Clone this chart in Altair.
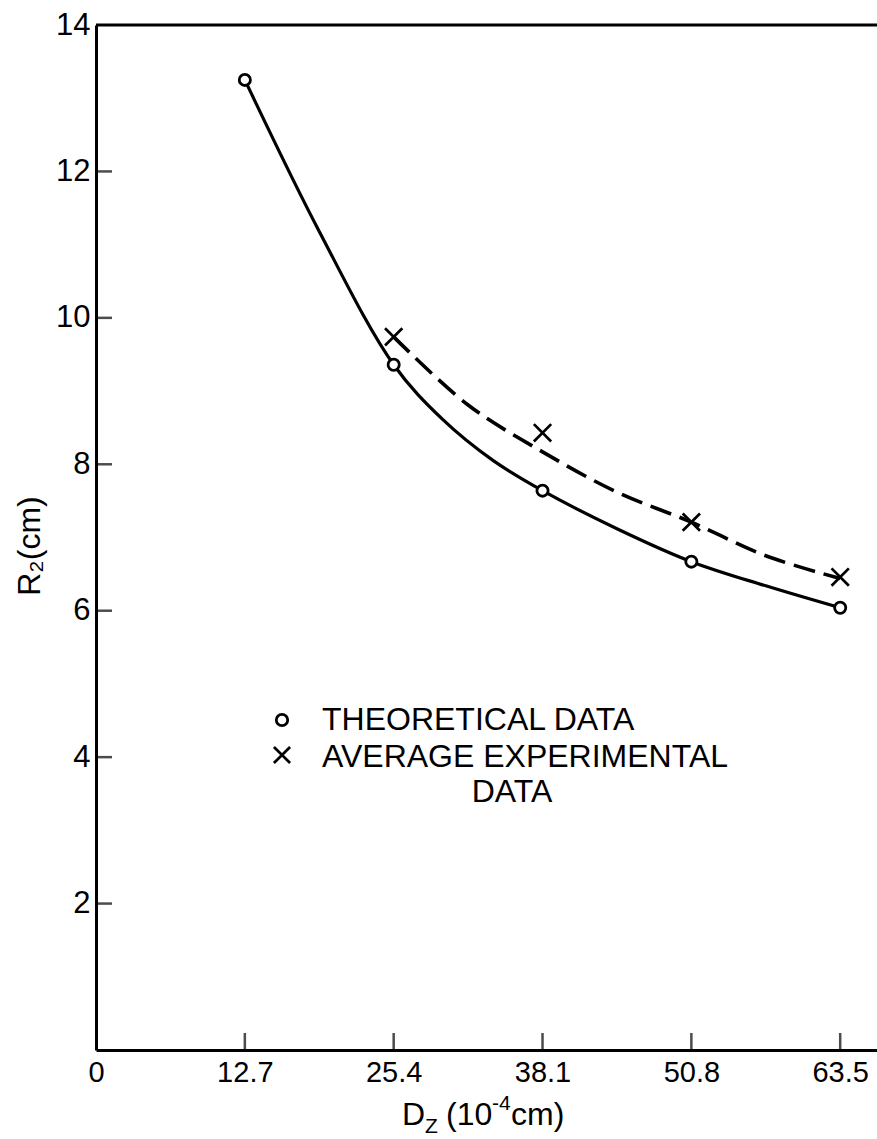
import altair as alt
import pandas as pd

# ---- values ----
theory_x = [12.7, 25.4, 38.1, 50.8, 63.5]
theory_y = [13.25, 9.36, 7.64, 6.67, 6.04]
exp_x = [25.4, 38.1, 50.8, 63.5]
exp_y = [9.74, 8.43, 7.21, 6.46]

# traced positions of the drawn curves
solid_curve_x = [12.7, 19.05, 25.4, 29.6, 33.9, 38.1, 44.45, 50.8, 57.15, 63.5]
solid_curve_y = [13.25, 11.18, 9.36, 8.61, 8.05, 7.64, 7.12, 6.67, 6.34, 6.04]
dashed_curve_x = [25.4, 31.75, 38.1, 44.45, 50.8, 57.15, 63.5]
dashed_curve_y = [9.74, 8.81, 8.17, 7.62, 7.21, 6.75, 6.44]

x_label_values = [0, 12.7, 25.4, 38.1, 50.8, 63.5]
x_tick_values = [12.7, 25.4, 38.1, 50.8, 63.5]
y_label_values = [2, 4, 6, 8, 10, 12, 14]
y_tick_values = [2, 4, 6, 8, 10, 12]

legend_labels = ["THEORETICAL DATA", "AVERAGE EXPERIMENTAL", "DATA"]
x_title_parts = ["D", "Z", "(10", "-4", "cm)"]
y_title = "R\u2082(cm)"

# ---- layout ----
W, H = 781, 1025
FONT = "Liberation Sans"

xscale = alt.Scale(domain=[0, 66.64], nice=False, zero=False)
yscale = alt.Scale(domain=[0, 14], nice=False, zero=False)

xaxis = alt.Axis(values=x_label_values,
                 labelExpr="datum.value == 0 ? '0' : format(datum.value, '.1f')",
                 ticks=False, grid=False, domain=True,
                 domainColor="black", domainWidth=3,
                 labelFont=FONT, labelFontSize=29, labelColor="black",
                 labelPadding=8, labelFlush=False, labelOverlap=False, title=None)
yaxis = alt.Axis(values=y_label_values, format="d",
                 ticks=False, grid=False, domain=True,
                 domainColor="black", domainWidth=3,
                 labelFont=FONT, labelFontSize=31, labelColor="black",
                 labelPadding=6, labelFlush=False, labelOverlap=False, title=None)


def X(field):
    return alt.X(field, type="quantitative", scale=xscale, axis=xaxis)


def Y(field):
    return alt.Y(field, type="quantitative", scale=yscale, axis=yaxis)


theory_df = pd.DataFrame({"x": theory_x, "y": theory_y})
exp_df = pd.DataFrame({"x": exp_x, "y": exp_y})
solid_df = pd.DataFrame({"x": solid_curve_x, "y": solid_curve_y})
dashed_df = pd.DataFrame({"x": dashed_curve_x, "y": dashed_curve_y})
xt_df = pd.DataFrame({"x": x_tick_values})
yt_df = pd.DataFrame({"y": y_tick_values})
one = pd.DataFrame({"k": [0]})

solid = alt.Chart(solid_df).mark_line(
    interpolate="catmull-rom", color="black", strokeWidth=3.2
).encode(x=X("x"), y=Y("y"))

dashed = alt.Chart(dashed_df).mark_line(
    interpolate="catmull-rom", color="black", strokeWidth=3.6, strokeDash=[22, 9]
).encode(x=X("x"), y=Y("y"))

circles = alt.Chart(theory_df).mark_point(
    shape="circle", filled=True, fill="white", stroke="black",
    strokeWidth=2.8, size=125, opacity=1
).encode(x=X("x"), y=Y("y"))

XPATH = "M-1,-1L1,1M-1,1L1,-1"
crosses = alt.Chart(exp_df).mark_point(
    shape=XPATH, filled=False, stroke="black", strokeWidth=2.7, size=300, opacity=1
).encode(x=X("x"), y=Y("y"))

# inward ticks
xticks = alt.Chart(xt_df).mark_tick(
    color="black", thickness=2.5, size=17, orient="vertical"
).encode(x=X("x"), y=alt.value(H - 8.5))
yticks = alt.Chart(yt_df).mark_tick(
    color="black", thickness=2.5, size=16, orient="horizontal"
).encode(y=Y("y"), x=alt.value(8))

top_border = alt.Chart(one).mark_rule(color="black", strokeWidth=3).encode(
    x=alt.value(0), x2=alt.value(W), y=alt.value(0))

# ---- legend drawn as annotation ----
leg_circle = alt.Chart(one).mark_point(
    shape="circle", filled=True, fill="white", stroke="black",
    strokeWidth=2.8, size=130, opacity=1
).encode(x=alt.value(186), y=alt.value(695))
leg_cross = alt.Chart(one).mark_point(
    shape=XPATH, filled=False, stroke="black", strokeWidth=2.7, size=260, opacity=1
).encode(x=alt.value(186), y=alt.value(730))


def txt(s, x, y, size, align="left", baseline="alphabetic", angle=0):
    kw = dict(align=align, baseline=baseline, font=FONT, fontSize=size, color="black")
    if angle:
        kw["angle"] = angle
    return alt.Chart(one).mark_text(**kw).encode(
        x=alt.value(x), y=alt.value(y), text=alt.value(s))


leg1 = txt(legend_labels[0], 226, 705, 32)
leg2 = txt(legend_labels[1], 226, 742, 32)
leg3 = txt(legend_labels[2], 416, 777, 32, align="center")

# ---- axis titles ----
xt1 = txt(x_title_parts[0], 306, 1100, 32)
xt2 = txt(x_title_parts[1], 329, 1108, 21)
xt3 = txt(x_title_parts[2], 350, 1100, 32)
xt4 = txt(x_title_parts[3], 396, 1085, 21)
xt5 = txt(x_title_parts[4], 415, 1100, 32)
yt = txt(y_title, -66, 521, 32, align="center", baseline="middle", angle=270)

chart = alt.layer(
    solid, dashed, circles, crosses, xticks, yticks, top_border,
    leg_circle, leg_cross, leg1, leg2, leg3,
    xt1, xt2, xt3, xt4, xt5, yt
).properties(
    width=W, height=H,
    padding={"left": 96, "top": 25, "right": 0, "bottom": 89},
    autosize=alt.AutoSizeParams(type="none"),
    background="white",
).configure_view(stroke="transparent")

chart.save("out.html", embed_options={"renderer": "svg", "actions": False})
